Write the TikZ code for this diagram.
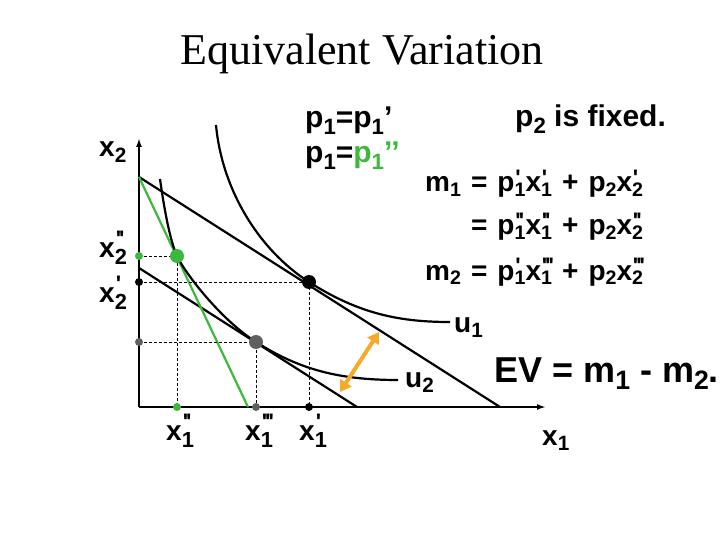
\documentclass[tikz,border=0pt]{standalone}
\usepackage{fontspec}
\usepackage{graphicx}
\setmainfont{Liberation Serif}
\setsansfont{Liberation Sans}
\newfontfamily\eqfont{Liberation Sans}[Ligatures=TeXOff]
\usetikzlibrary{arrows.meta,positioning,calc}
\definecolor{evgreen}{RGB}{60,185,60}
\definecolor{evgray}{RGB}{95,95,95}
\definecolor{evorange}{RGB}{245,170,40}
% variable with subscript, and with subscript plus prime marks
\newcommand{\vs}[2]{#1\raisebox{-0.4ex}{\scalebox{0.74}{#2}}}
\newcommand{\vq}[3]{#1\rlap{\hspace{0.04em}\raisebox{0.7ex}{\scalebox{0.8}{#3}}}\raisebox{-0.5ex}{\scalebox{0.78}{#2}}}
\newcommand{\evs}[2]{#1\raisebox{-0.3ex}{\scalebox{0.7}{#2}}}
\newcommand{\evq}[3]{#1\rlap{\hspace{0.03em}\raisebox{0.45ex}{\scalebox{0.8}{#3}}}\raisebox{-0.3ex}{\scalebox{0.7}{#2}}}
\newcommand{\pp}{'\kern-0.09em'}
\newcommand{\ppp}{'\kern-0.09em'\kern-0.09em'}
\newcommand{\op}[1]{\hspace{0.36em}#1\hspace{0.36em}}

\begin{document}
\begin{tikzpicture}[x=1pt,y=-1pt,
 axis/.style={line width=2.2pt,-{Latex[length=9pt,width=6pt]}},
 budget/.style={line width=2.2pt},
 icurve/.style={line width=2.2pt},
 guide/.style={densely dashed,line width=0.9pt},
 bigdot/.style={circle,inner sep=0pt,minimum size=14pt},
 axdot/.style={circle,inner sep=0pt,minimum size=8pt},
 lab/.style={anchor=base west,inner sep=0pt,font=\eqfont\bfseries\fontsize{28}{33}\selectfont},
 eqlab/.style={lab,font=\eqfont\bfseries\fontsize{28}{33}\selectfont},
 biglab/.style={lab,font=\eqfont\bfseries\fontsize{30}{36}\selectfont},
 evarrow/.style={evorange,line width=4pt,{Triangle[width=13pt,length=11pt]}-{Triangle[width=13pt,length=11pt]}}]
\useasboundingbox (0,0) rectangle (720,540);
% axes
\coordinate (O) at (139,407);
\coordinate (ytop) at (139,138);
\coordinate (xend) at (546,407);
\draw[axis] (O) -- (ytop);
\draw[axis] (O) -- (xend);
% budget lines
\coordinate (Y1) at (139,177);
\coordinate (X1) at (500,407);
\coordinate (Xg) at (248,407);
\coordinate (Y2) at (139,268);
\coordinate (X2) at (357,407);
\draw[budget] (Y1) -- (X1);
\draw[budget] (Y2) -- (X2);
\draw[budget,evgreen] (Y1) -- (Xg);
% optimal bundles
\coordinate (A) at (177,256);
\coordinate (B) at (309,282);
\coordinate (C) at (256,342);
% indifference curves
\draw[icurve] (216,125) .. controls (222,190) and (259,250) .. (B)
 .. controls (359,314) and (400,322) .. (450,322);
\draw[icurve] (160,179) .. controls (165,215) and (171,243) .. (A)
 .. controls (185,273) and (220,319) .. (C)
 .. controls (300,370) and (340,380) .. (398,380);
% guides
\draw[guide] (O |- A) -- (A) -- (A |- O);
\draw[guide] (O |- B) -- (B) -- (B |- O);
\draw[guide] (O |- C) -- (C) -- (C |- O);
% dots
\node[bigdot,fill=evgreen] (dA) at (A) {};
\node[bigdot,fill=black] (dB) at (B) {};
\node[bigdot,fill=evgray] (dC) at (C) {};
\node[axdot,fill=evgreen] (dAy) at (O |- A) {};
\node[axdot,fill=evgreen] (dAx) at (A |- O) {};
\node[axdot,fill=black] (dBy) at (O |- B) {};
\node[axdot,fill=black] (dBx) at (B |- O) {};
\node[axdot,fill=evgray] (dCy) at (O |- C) {};
\node[axdot,fill=evgray] (dCx) at (C |- O) {};
% EV arrow
\coordinate (ev1) at (340,392);
\coordinate (ev2) at (379,332);
\draw[evarrow] (ev1) -- (ev2);
% labels
\node[anchor=base,font=\rmfamily\mdseries\fontsize{44}{50}\selectfont] (title) at (362,65) {Equivalent Variation};
\node[lab] (lx2) at (99,157) {\vs{x}{2}};
\node[lab] (lx1) at (542,445) {\vs{x}{1}};
\node[lab] (lx2a) at (99,257) {\vq{x}{2}{\pp}};
\node[lab] (lx2b) at (99,302) {\vq{x}{2}{'}};
\node[lab] (lx1a) at (166,440) {\vq{x}{1}{\pp}};
\node[lab] (lx1b) at (245,440) {\vq{x}{1}{\ppp}};
\node[lab] (lx1c) at (299,440) {\vq{x}{1}{'}};
\node[lab] (lu1) at (454,332) {\vs{u}{1}};
\node[lab] (lu2) at (405,387) {\vs{u}{2}};
\node[biglab] (lp1a) at (305,128) {\vs{p}{1}=\vs{p}{1}’};
\node[biglab] (lp1b) at (305,163) {\vs{p}{1}=\textcolor{evgreen}{\vs{p}{1}’’}};
\node[biglab] (lp2) at (515,127) {\vs{p}{2} is fixed.};
\node[eqlab] (eq1) at (425,192) {\evs{m}{1}\op{=}\evq{p}{1}{'}\evq{x}{1}{'}\op{+}\evs{p}{2}\evq{x}{2}{'}};
\node[eqlab] (eq2) at (425,235) {\phantom{\evs{m}{1}}\op{=}\evq{p}{1}{\pp}\evq{x}{1}{\pp}\op{+}\evs{p}{2}\evq{x}{2}{\pp}};
\node[eqlab] (eq3) at (425,280) {\evs{m}{2}\op{=}\evq{p}{1}{'}\evq{x}{1}{\ppp}\op{+}\evs{p}{2}\evq{x}{2}{\ppp}};
\node[lab,font=\eqfont\bfseries\fontsize{36}{42}\selectfont] (lev) at (494,382) {EV = \vs{m}{1} - \vs{m}{2}.};
\end{tikzpicture}
\end{document}
